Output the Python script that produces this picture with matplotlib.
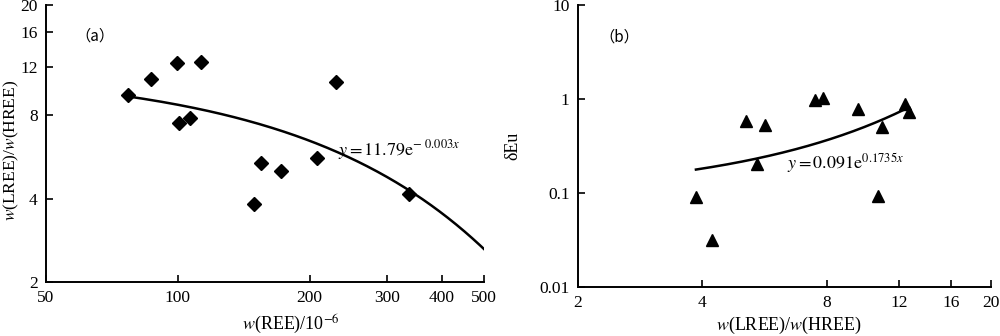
import matplotlib
matplotlib.use("Agg")
import numpy as np
import matplotlib.pyplot as plt
from matplotlib.ticker import FixedLocator, FixedFormatter, NullLocator

plt.rcParams['font.family'] = ['Liberation Serif', 'DejaVu Serif']
plt.rcParams['mathtext.fontset'] = 'stix'

# (a) total REE vs LREE/HREE
ree = [76.8, 86.8, 99.7, 113, 100.7, 106.4, 229.6, 207.8, 155, 172, 149, 337]
lh_a = [9.46, 10.78, 12.35, 12.5, 7.48, 7.80, 10.57, 5.62, 5.39, 5.03, 3.82, 4.16]
fit_a = (11.79, -0.003)

# (b) LREE/HREE vs dEu
lh_b = [5.10, 5.68, 7.51, 7.85, 9.51, 10.87, 12.38, 12.64, 5.43, 3.86, 4.22, 10.63]
deu = [0.588, 0.528, 0.976, 1.02, 0.789, 0.507, 0.885, 0.733, 0.202, 0.0914, 0.0316, 0.093]
fit_b = (0.091, 0.1735)

xt_a = [50, 100, 200, 300, 400, 500]
yt_a = [2, 4, 8, 12, 16, 20]
xt_b = [2, 4, 8, 12, 16, 20]
yt_b = [0.01, 0.1, 1, 10]

fig = plt.figure(figsize=(10, 3.36), dpi=100)
ax1 = fig.add_axes([0.046, 0.1607, 0.438, 0.824])
ax2 = fig.add_axes([0.578, 0.1458, 0.413, 0.839])


def style(ax, xt, yt, xlim, ylim, ylabels):
    ax.set_xscale('log')
    ax.set_yscale('log')
    ax.set_xlim(*xlim)
    ax.set_ylim(*ylim)
    ax.xaxis.set_major_locator(FixedLocator(xt))
    ax.xaxis.set_major_formatter(FixedFormatter([str(v) for v in xt]))
    ax.yaxis.set_major_locator(FixedLocator(yt))
    ax.yaxis.set_major_formatter(FixedFormatter(ylabels))
    ax.xaxis.set_minor_locator(NullLocator())
    ax.yaxis.set_minor_locator(NullLocator())
    for s in ['top', 'right']:
        ax.spines[s].set_visible(False)
    for s in ['left', 'bottom']:
        ax.spines[s].set_linewidth(1.4)
    ax.tick_params(direction='in', length=5, width=1.2, labelsize=12.5, pad=6)


ax1.plot(ree, lh_a, 'D', color='black', markersize=7, clip_on=False)
xa = np.linspace(min(ree), 500, 200)
ax1.plot(xa, fit_a[0] * np.exp(fit_a[1] * xa), color='black', lw=1.8)
style(ax1, xt_a, yt_a, (50, 500), (2, 20), [str(v) for v in yt_a])
ax1.set_xlabel(r'$w$(REE)/10$^{-6}$', fontsize=13)
ax1.xaxis.set_label_coords(0.56, -0.11)
ax1.set_ylabel(r'$w$(LREE)/$w$(HREE)', fontsize=12.5)
ax1.yaxis.set_label_coords(-0.058, 0.477)
ax1.text(232, 5.99, r'$y = 11.79\mathrm{e}^{-\ 0.003x}$', fontsize=13, va='center')
ax1.text(0.112, 0.89, '（a）', transform=ax1.transAxes, fontsize=11,
         family=['Noto Sans CJK SC', 'DejaVu Sans'], va='center', ha='center')

ax2.plot(lh_b, deu, '^', color='black', markersize=8, clip_on=False)
xb = np.linspace(min(lh_b), 12.5, 200)
ax2.plot(xb, fit_b[0] * np.exp(fit_b[1] * xb), color='black', lw=1.8)
style(ax2, xt_b, yt_b, (2, 20), (0.01, 10), ['0.01', '0.1', '1', '10'])
ax2.set_xlabel(r'$w$(LREE)/$w$(HREE)', fontsize=13)
ax2.xaxis.set_label_coords(0.51, -0.10)
ax2.set_ylabel('δEu', fontsize=13)
ax2.yaxis.set_label_coords(-0.136, 0.5)
ax2.text(6.4, 0.209, r'$y = 0.091\mathrm{e}^{0.1735x}$', fontsize=13, va='center')
ax2.text(0.1, 0.885, '（b）', transform=ax2.transAxes, fontsize=11,
         family=['Noto Sans CJK SC', 'DejaVu Sans'], va='center', ha='center')

fig.savefig('out.png', dpi=100)
